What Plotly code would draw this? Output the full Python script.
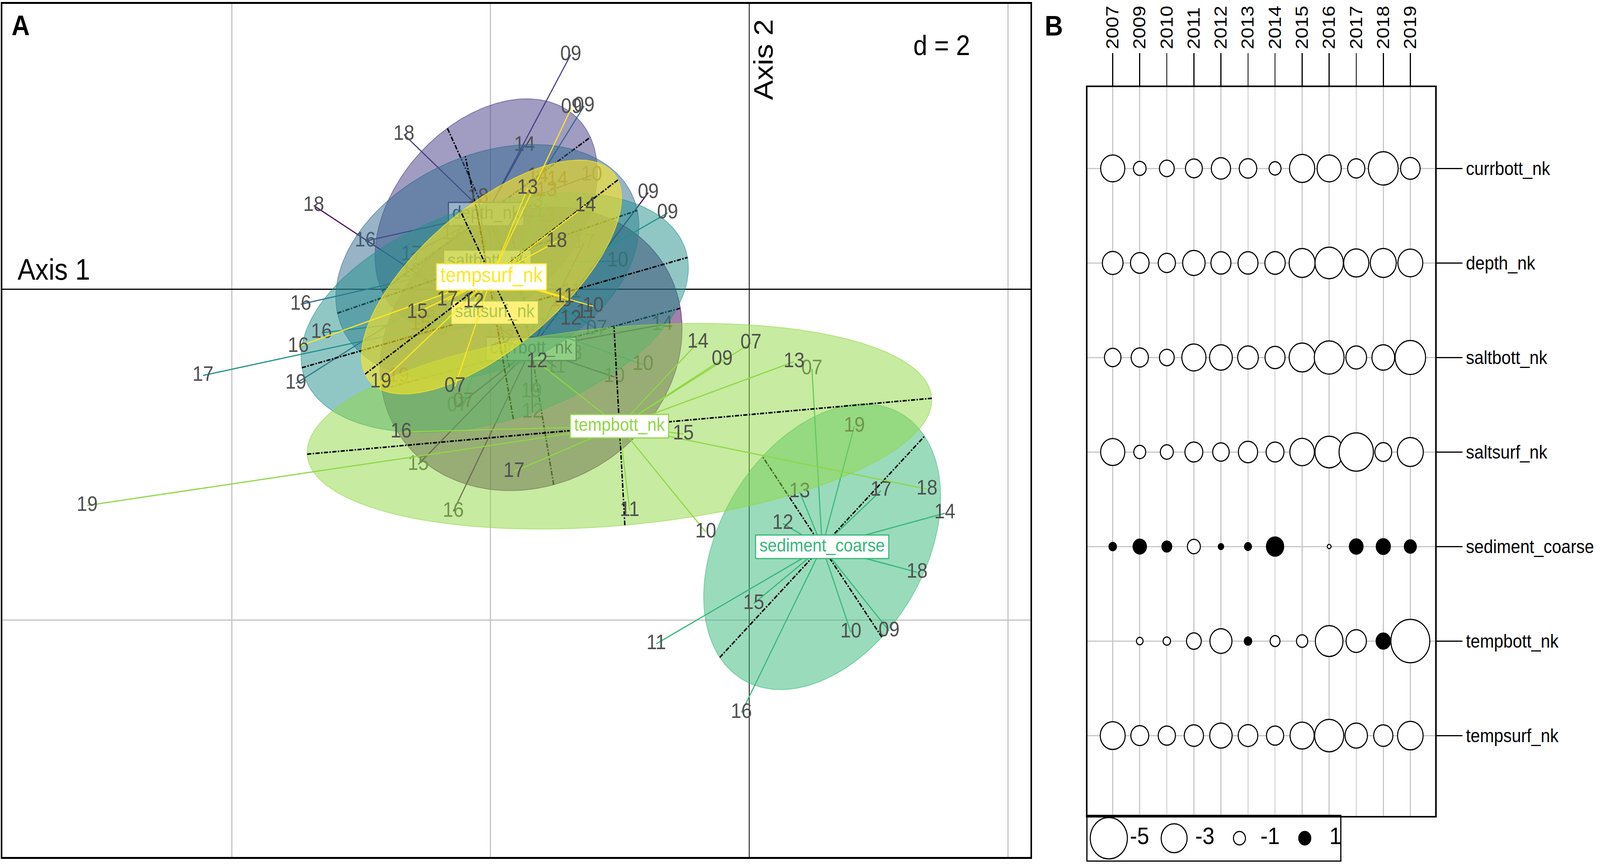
import numpy as np
import plotly.graph_objects as go

W, H = 4564, 2212

# ---------------- data ----------------
years_short = ["07", "09", "10", "11", "12", "13", "14", "15", "16", "17", "18", "19"]
years_full = ["2007", "2009", "2010", "2011", "2012", "2013", "2014", "2015", "2016", "2017", "2018", "2019"]
classes = ["currbott_nk", "depth_nk", "saltbott_nk", "saltsurf_nk", "sediment_coarse", "tempbott_nk", "tempsurf_nk"]
class_colors = ["#440154", "#443A83", "#31688E", "#21908C", "#35B779", "#8FD744", "#FDE725"]

# Panel A: class centres (Axis 1, Axis 2)
center_x = [-1.686, -2.033, -2.024, -1.967, 0.564, -1.003, -1.992]
center_y = [-0.361, 0.453, 0.165, -0.142, -1.558, -0.829, 0.073]

# Panel A: year scores per class (order of years_short)
currbott_x = [-2.255, -0.780, -1.043, -1.493, -1.675, -1.371, -0.672, -2.558, -2.287, -1.276, -3.366, -1.683]
currbott_y = [-0.706, 0.583, -0.531, -0.472, -0.744, -0.394, -0.215, -1.060, -1.344, 0.279, 0.505, -0.621]
depth_x = [-1.656, -1.379, -1.217, -1.916, -1.995, -1.577, -1.737, -2.610, -2.967, -2.610, -2.669, -2.412]
depth_y = [-0.231, 1.417, 0.689, 0.323, 0.274, 0.439, 0.869, 0.106, 0.290, 0.208, 0.935, -0.241]
saltbott_x = [-1.179, -1.276, -1.016, -1.374, -1.894, -1.675, -1.634, -2.491, -3.466, -2.295, -2.095, -3.504]
saltbott_y = [-0.241, 1.107, 0.168, -0.019, -0.298, 0.527, 0.680, -0.182, -0.092, 0.331, 0.555, -0.571]
saltsurf_x = [-2.209, -0.631, -0.821, -1.260, -1.379, -1.566, -1.482, -2.539, -3.306, -4.222, -1.455, -2.710]
saltsurf_y = [-0.680, 0.460, -0.456, -0.142, -0.182, 0.593, 0.659, -0.213, -0.264, -0.522, -0.071, -0.531]
sediment_x = [0.485, 1.081, 0.786, -0.718, 0.260, 0.390, 1.512, 0.035, -0.060, 1.019, 1.298, 0.813]
sediment_y = [-0.482, -2.066, -2.075, -2.144, -1.417, -1.226, -1.355, -1.901, -2.560, -1.218, -1.712, -0.829]
tempbott_x = [0.014, -0.209, -0.336, -0.924, -1.640, 0.347, -0.396, -0.509, -2.691, -1.818, 1.374, -5.117]
tempbott_y = [-0.326, -0.425, -1.469, -1.339, -0.439, -0.439, -0.323, -0.876, -0.864, -1.103, -1.209, -1.308]
tempsurf_x = [-2.274, -1.374, -1.206, -1.428, -2.130, -1.713, -1.266, -2.566, -3.485, -2.333, -1.488, -2.848]
tempsurf_y = [-0.588, 1.096, -0.104, -0.047, -0.080, 0.609, 0.503, -0.142, -0.347, -0.068, 0.288, -0.564]

points_x = [currbott_x, depth_x, saltbott_x, saltsurf_x, sediment_x, tempbott_x, tempsurf_x]
points_y = [currbott_y, depth_y, saltbott_y, saltsurf_y, sediment_y, tempbott_y, tempsurf_y]

# Panel A: inertia ellipses (semi-axes, orientation in degrees)
ell_a = [1.18, 0.93, 1.20, 1.527, 1.036, 2.42, 1.14]
ell_b = [0.84, 0.60, 0.66, 0.66, 0.715, 0.60, 0.46]
ell_angle = [12.0, 30.0, 15.0, 12.6, 40.2, 4.0, 31.0]

# Panel B: table values (rows = classes, columns = years_full)
val_currbott = [-2.71, -1.07, -1.34, -1.62, -1.96, -1.71, -0.99, -2.88, -2.71, -1.67, -3.66, -2.01]
val_depth = [-2.17, -1.86, -1.67, -2.44, -2.07, -2.07, -2.12, -3.00, -3.41, -2.88, -3.00, -2.83]
val_saltbott = [-1.57, -1.67, -1.34, -2.71, -2.49, -2.17, -2.07, -3.00, -3.66, -2.17, -2.49, -3.78]
val_saltsurf = [-2.71, -0.99, -1.11, -1.76, -1.57, -1.96, -1.76, -2.77, -3.41, -4.48, -1.62, -3.00]
val_sediment = [0.50, 1.16, 0.75, -1.11, 0.31, 0.46, 1.67, 0.0, -0.19, 1.20, 1.25, 0.99]
val_tempbott = [0.0, -0.43, -0.50, -1.34, -2.38, 0.50, -0.75, -0.91, -3.29, -2.12, 1.29, -5.35]
val_tempsurf = [-2.83, -1.76, -1.67, -1.96, -2.44, -2.01, -1.67, -2.71, -3.54, -2.44, -1.96, -2.94]
table_values = [val_currbott, val_depth, val_saltbott, val_saltsurf, val_sediment, val_tempbott, val_tempsurf]

legend_values = [-5, -3, -1, 1]

# ---------------- layout geometry / styles ----------------
FONT = "Liberation Sans"
A_X0, A_X1, A_Y0, A_Y1 = 7, 2939, 10, 2194          # panel A frame (px)
A_XR = [-5.772, 2.173]
A_YR = [-3.433, 1.724]
px_per_x = (A_X1 - A_X0) / (A_XR[1] - A_XR[0])
px_per_y = (A_Y1 - A_Y0) / (A_YR[1] - A_YR[0])

B_X0, B_X1, B_Y0, B_Y1 = 3102, 4094, 223, 2089
L_X1, L_Y1 = 3823, 2203

fill_alpha = [0.5, 0.5, 0.5, 0.5, 0.5, 0.5, 0.62]
label_size = [47, 47, 47, 47, 47, 47, 53]


def rgba(hexc, a):
    h = hexc.lstrip("#")
    return "rgba(%d,%d,%d,%.3f)" % (int(h[0:2], 16), int(h[2:4], 16), int(h[4:6], 16), a)


CW = {"a": .556, "b": .556, "c": .5, "d": .556, "e": .556, "f": .278, "h": .556, "i": .222,
      "k": .5, "m": .833, "n": .556, "o": .556, "p": .556, "r": .333, "s": .5, "t": .278,
      "u": .556, "_": .556, "l": .222}


def text_w(s, size):
    return sum(CW.get(ch, .55) for ch in s) * size


fig = go.Figure()
t = np.linspace(0, 2 * np.pi, 181)

for k, name in enumerate(classes):
    col = class_colors[k]
    cx, cy = center_x[k], center_y[k]
    ang = np.deg2rad(ell_angle[k])
    ca, sa = np.cos(ang), np.sin(ang)
    a, b = ell_a[k], ell_b[k]
    ex = cx + a * np.cos(t) * ca - b * np.sin(t) * sa
    ey = cy + a * np.cos(t) * sa + b * np.sin(t) * ca
    fig.add_trace(go.Scatter(x=ex, y=ey, mode="lines", fill="toself",
                             fillcolor=rgba(col, fill_alpha[k]),
                             line=dict(color=rgba(col, min(1.0, fill_alpha[k] + 0.1)), width=2),
                             hoverinfo="skip", xaxis="x", yaxis="y"))
    axx = [cx - a * ca, cx + a * ca, None, cx + b * sa, cx - b * sa]
    axy = [cy - a * sa, cy + a * sa, None, cy - b * ca, cy + b * ca]
    fig.add_trace(go.Scatter(x=axx, y=axy, mode="lines",
                             line=dict(color="black", width=4, dash="dashdot"),
                             hoverinfo="skip", xaxis="x", yaxis="y"))
    sx, sy = [], []
    for px, py in zip(points_x[k], points_y[k]):
        if px is None:
            continue
        sx += [cx, px, None]
        sy += [cy, py, None]
    fig.add_trace(go.Scatter(x=sx, y=sy, mode="lines", line=dict(color=col, width=3),
                             hoverinfo="skip", xaxis="x", yaxis="y"))
    fig.add_trace(go.Scatter(x=points_x[k], y=points_y[k], mode="text", text=years_short,
                             textposition="middle center",
                             textfont=dict(family=FONT, size=54, color="#505050"),
                             hoverinfo="skip", xaxis="x", yaxis="y"))
    fs = label_size[k]
    hw = (text_w(name, fs) / 2 + 11) / px_per_x
    hh = (fs * 0.64) / px_per_y
    fig.add_trace(go.Scatter(x=[cx - hw, cx + hw, cx + hw, cx - hw, cx - hw],
                             y=[cy - hh, cy - hh, cy + hh, cy + hh, cy - hh],
                             mode="lines", fill="toself", fillcolor="white",
                             line=dict(color=col, width=3), hoverinfo="skip",
                             xaxis="x", yaxis="y"))
    fig.add_trace(go.Scatter(x=[cx], y=[cy], mode="text", text=[name],
                             textposition="middle center",
                             textfont=dict(family=FONT, size=fs, color=col),
                             hoverinfo="skip", xaxis="x", yaxis="y"))


# ---------------- panel B ----------------
def bubble_size(v):
    return 34.3 * abs(v) ** 0.7


for r, row in enumerate(table_values):
    xs, ys, sz, fc = [], [], [], []
    for c, v in enumerate(row):
        if v is None or v == 0:
            continue
        xs.append(c)
        ys.append(r)
        sz.append(bubble_size(v))
        fc.append("black" if v > 0 else "white")
    fig.add_trace(go.Scatter(x=xs, y=ys, mode="markers",
                             marker=dict(size=sz, color=fc, line=dict(color="black", width=3),
                                         symbol="circle", opacity=1),
                             hoverinfo="skip", xaxis="x2", yaxis="y2"))

lx = list(range(len(legend_values)))
fig.add_trace(go.Scatter(x=lx, y=[0] * len(lx), mode="markers",
                         marker=dict(size=[bubble_size(v) for v in legend_values],
                                     color=["black" if v > 0 else "white" for v in legend_values],
                                     line=dict(color="black", width=3), opacity=1),
                         hoverinfo="skip", xaxis="x3", yaxis="y3", cliponaxis=False))
fig.add_trace(go.Scatter(x=[i + 0.47 for i in lx], y=[0] * len(lx), mode="text",
                         text=[str(v) for v in legend_values], textposition="middle center",
                         textfont=dict(family=FONT, size=62, color="black"),
                         hoverinfo="skip", xaxis="x3", yaxis="y3", cliponaxis=False))

fig.update_layout(
    width=W, height=H, margin=dict(l=0, r=0, t=0, b=0),
    paper_bgcolor="white", plot_bgcolor="white", showlegend=False,
    xaxis=dict(domain=[A_X0 / W, A_X1 / W], range=A_XR, showgrid=True, gridcolor="#c4c4c4",
               gridwidth=3, tick0=0, dtick=2, zeroline=True, zerolinecolor="black",
               zerolinewidth=3, showticklabels=False, ticks="", showline=True, mirror=True,
               linecolor="black", linewidth=5, anchor="y", fixedrange=True),
    yaxis=dict(domain=[1 - A_Y1 / H, 1 - A_Y0 / H], range=A_YR, showgrid=True, gridcolor="#c4c4c4",
               gridwidth=3, tick0=0, dtick=2, zeroline=True, zerolinecolor="black",
               zerolinewidth=3, showticklabels=False, ticks="", showline=True, mirror=True,
               linecolor="black", linewidth=5, anchor="x", fixedrange=True),
    xaxis2=dict(domain=[B_X0 / W, B_X1 / W], range=[-0.933, 11.92], tickmode="array",
                tickvals=list(range(len(years_full))), ticktext=years_full, side="top",
                ticks="outside", ticklen=83, tickwidth=3, tickcolor="black", tickangle=-90,
                tickfont=dict(family=FONT, size=50, color="black"), showgrid=True,
                gridcolor="#c8c8c8", gridwidth=3, zeroline=False, showline=True, mirror=True,
                linecolor="black", linewidth=4, anchor="y2"),
    yaxis2=dict(domain=[1 - B_Y1 / H, 1 - B_Y0 / H], range=[6.85, -0.86], tickmode="array",
                tickvals=list(range(len(classes))), ticktext=classes, side="right",
                ticks="outside", ticklen=74, tickwidth=3, tickcolor="black",
                tickfont=dict(family=FONT, size=48, color="black"), showgrid=True,
                gridcolor="#c8c8c8", gridwidth=3, zeroline=False, showline=True, mirror=True,
                linecolor="black", linewidth=4, anchor="x2"),
    xaxis3=dict(domain=[B_X0 / W, L_X1 / W], range=[-0.327, 3.543], showgrid=False,
                zeroline=False, showticklabels=False, ticks="", showline=True, mirror=True,
                linecolor="black", linewidth=3, anchor="y3"),
    yaxis3=dict(domain=[1 - L_Y1 / H, 1 - B_Y1 / H], range=[-1, 1], showgrid=False,
                zeroline=False, showticklabels=False, ticks="", showline=True, mirror=True,
                linecolor="black", linewidth=3, anchor="x3"),
)

ann = [
    dict(text="<b>A</b>", x=59 / W, y=1 - 65 / H, size=72),
    dict(text="<b>B</b>", x=3006 / W, y=1 - 66 / H, size=72),
    dict(text="d = 2", x=2686 / W, y=1 - 116 / H, size=72),
]
for a_ in ann:
    fig.add_annotation(text=a_["text"], x=a_["x"], y=a_["y"], xref="paper", yref="paper",
                       showarrow=False, xanchor="center", yanchor="middle",
                       font=dict(family=FONT, size=a_["size"], color="black"))
fig.add_annotation(text="Axis 1", x=48 / W, y=1 - 689 / H, xref="paper", yref="paper",
                   showarrow=False, xanchor="left", yanchor="middle",
                   font=dict(family=FONT, size=76, color="black"))
fig.add_annotation(text="Axis 2", x=2178 / W, y=1 - 153 / H, xref="paper", yref="paper",
                   showarrow=False, xanchor="center", yanchor="middle", textangle=-90,
                   font=dict(family=FONT, size=76, color="black"))

# fit the 4564x2212 figure exactly into the browser viewport
post = """
var gd = document.getElementById('{plot_id}');
var iw = window.innerWidth, ih = window.innerHeight;
document.body.style.margin = '0';
var sx = iw / 4564, sy = ih / 2212;
gd.style.transformOrigin = '0 0';
gd.style.transform = 'scale(' + sx + ',' + sy + ')';
var wrap = gd.parentElement;
wrap.style.width = iw + 'px';
wrap.style.height = ih + 'px';
wrap.style.overflow = 'hidden';
document.documentElement.style.overflow = 'hidden';
document.body.style.overflow = 'hidden';
"""

fig.write_html("out.html", post_script=post, config={"displayModeBar": False})
